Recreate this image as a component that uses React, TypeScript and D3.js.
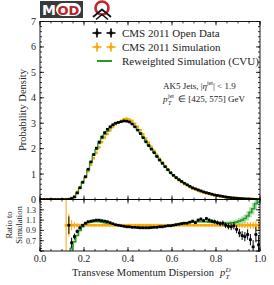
import React from 'react';
import * as d3 from 'd3';

// 80 bins on [0, 1]
const nBins = 80;
const binWidth = 1 / nBins;

const dataDensity = [
  0, 0, 0, 0, 0, 0, 0, 0, 0, 0,
  0.01, 0.04, 0.10, 0.26, 0.46, 0.68, 0.90, 1.19, 1.48, 1.77,
  2.02, 2.26, 2.46, 2.63, 2.76, 2.86, 2.94, 3.00, 3.03, 3.06,
  3.09, 3.08, 3.05, 2.97, 2.86, 2.73, 2.59, 2.43, 2.27, 2.12,
  1.98, 1.84, 1.69, 1.55, 1.42, 1.29, 1.17, 1.05, 0.95, 0.86,
  0.78, 0.71, 0.64, 0.58, 0.52, 0.46, 0.42, 0.38, 0.34, 0.30,
  0.27, 0.24, 0.21, 0.18, 0.16, 0.14, 0.12, 0.10, 0.085, 0.07,
  0.06, 0.05, 0.04, 0.032, 0.025, 0.019, 0.014, 0.009, 0.005, 0.002,
];

// data / simulation
const dataRatio: (number | null)[] = [
  null, null, null, null, null, null, null, null, null, null,
  1.0, 0.66, 0.78, 0.88, 0.95, 1.0, 1.04, 1.07, 1.08, 1.09,
  1.10, 1.10, 1.09, 1.08, 1.07, 1.05, 1.03, 1.01, 1.0, 0.99,
  0.98, 0.97, 0.97, 0.96, 0.96, 0.955, 0.95, 0.95, 0.95, 0.95,
  0.955, 0.96, 0.96, 0.97, 0.97, 0.98, 0.99, 0.99, 1.0, 1.01,
  1.02, 1.03, 1.04, 1.04, 1.06, 1.08, 1.05, 1.10, 1.12, 1.09,
  1.13, 1.10, 1.08, 1.07, 1.05, 1.03, 1.04, 1.0, 0.98, 0.97,
  0.99, 0.92, 0.85, 0.80, 0.78, 0.82, 0.72, 0.58, 0.82, 0.62,
];

const dataRatioErr: (number | null)[] = [
  null, null, null, null, null, null, null, null, null, null,
  0.17, 0.10, 0.06, 0.04, 0.03, 0.02, 0.015, 0.012, 0.01, 0.01,
  0.01, 0.01, 0.01, 0.01, 0.01, 0.01, 0.01, 0.01, 0.01, 0.01,
  0.01, 0.01, 0.01, 0.01, 0.01, 0.01, 0.01, 0.01, 0.01, 0.01,
  0.01, 0.01, 0.01, 0.01, 0.01, 0.012, 0.012, 0.013, 0.014, 0.015,
  0.016, 0.017, 0.018, 0.019, 0.02, 0.022, 0.024, 0.026, 0.028, 0.03,
  0.032, 0.034, 0.036, 0.04, 0.042, 0.045, 0.05, 0.055, 0.06, 0.065,
  0.07, 0.075, 0.08, 0.085, 0.09, 0.10, 0.11, 0.13, 0.15, 0.18,
];

const simRatioErr: (number | null)[] = [
  null, null, null, null, null, null, null, null, null, 0.7,
  0.22, 0.10, 0.06, 0.04, 0.03, 0.02, 0.015, 0.012, 0.01, 0.01,
  0.008, 0.008, 0.008, 0.008, 0.008, 0.008, 0.008, 0.008, 0.008, 0.008,
  0.008, 0.008, 0.008, 0.008, 0.008, 0.008, 0.008, 0.008, 0.008, 0.008,
  0.008, 0.008, 0.008, 0.008, 0.008, 0.009, 0.009, 0.01, 0.01, 0.01,
  0.011, 0.012, 0.013, 0.014, 0.015, 0.016, 0.017, 0.018, 0.019, 0.02,
  0.021, 0.022, 0.023, 0.025, 0.027, 0.029, 0.031, 0.033, 0.035, 0.037,
  0.04, 0.043, 0.046, 0.05, 0.055, 0.06, 0.065, 0.07, 0.08, 0.09,
];

// reweighted (CVU) / simulation
const cvuRatio: (number | null)[] = [
  null, null, null, null, null, null, null, null, null, null,
  0.45, 0.55, 0.68, 0.80, 0.90, 0.97, 1.02, 1.05, 1.06, 1.07,
  1.07, 1.07, 1.06, 1.05, 1.04, 1.03, 1.02, 1.01, 1.0, 0.99,
  0.98, 0.975, 0.97, 0.965, 0.96, 0.96, 0.96, 0.96, 0.96, 0.96,
  0.96, 0.965, 0.97, 0.975, 0.98, 0.985, 0.99, 1.0, 1.01, 1.02,
  1.03, 1.04, 1.05, 1.05, 1.06, 1.06, 1.07, 1.07, 1.07, 1.07,
  1.07, 1.06, 1.06, 1.05, 1.05, 1.04, 1.04, 1.04, 1.04, 1.05,
  1.05, 1.06, 1.08, 1.10, 1.13, 1.18, 1.25, 1.32, 1.42, 1.55,
];

const cvuErr: (number | null)[] = [
  null, null, null, null, null, null, null, null, null, null,
  0.05, 0.04, 0.03, 0.02, 0.015, 0.012, 0.01, 0.01, 0.01, 0.01,
  0.008, 0.008, 0.008, 0.008, 0.008, 0.008, 0.008, 0.008, 0.008, 0.008,
  0.008, 0.008, 0.008, 0.008, 0.008, 0.008, 0.008, 0.008, 0.008, 0.008,
  0.008, 0.008, 0.008, 0.008, 0.008, 0.009, 0.009, 0.01, 0.01, 0.01,
  0.011, 0.012, 0.013, 0.014, 0.015, 0.016, 0.017, 0.018, 0.019, 0.02,
  0.021, 0.022, 0.024, 0.026, 0.028, 0.03, 0.032, 0.034, 0.036, 0.04,
  0.045, 0.05, 0.06, 0.07, 0.08, 0.09, 0.10, 0.11, 0.12, 0.14,
];

const mainYTicks = [0, 1, 2, 3, 4, 5, 6, 7];
const ratioYTicks = [0.7, 0.9, 1.1, 1.3];
const xTicks = [0, 0.2, 0.4, 0.6, 0.8, 1.0];

const legendLabels = ['CMS 2011 Open Data', 'CMS 2011 Simulation', 'Reweighted Simulation (CVU)'];

const ORANGE = '#ffa500';
const GREEN = '#2a9a2a';
const LIGHTGREEN = '#8fd18f';
const SERIF = '"Liberation Serif", "Times New Roman", serif';

const x = d3.scaleLinear().domain([0, 1]).range([40, 260]);
const yMain = d3.scaleLinear().domain([0, 7]).range([199.5, 21.5]);
const yRatio = d3.scaleLinear().domain([0.5, 1.5]).range([251, 199.5]);

const bins = d3.range(nBins).map(i => ({
  i,
  lo: i * binWidth,
  hi: (i + 1) * binWidth,
  c: (i + 0.5) * binWidth,
}));

const simDensity = bins.map(b => {
  const r = dataRatio[b.i];
  return r ? dataDensity[b.i] / r : 0;
});
const cvuDensity = bins.map(b => {
  const r = cvuRatio[b.i];
  return r ? simDensity[b.i] * r : null;
});

function stepPoints(vals: (number | null)[]) {
  const pts: [number, number][] = [];
  bins.forEach(b => {
    const v = vals[b.i];
    if (v == null) return;
    pts.push([b.lo, v], [b.hi, v]);
  });
  return pts;
}

function Ticks({ scale, values, minor, side, pos, len = 4, mlen = 2 }: any) {
  const out: any[] = [];
  const draw = (v: number, l: number, k: string) => {
    if (side === 'left') out.push(<line key={k} x1={pos} x2={pos + l} y1={scale(v)} y2={scale(v)} />);
    if (side === 'right') out.push(<line key={k} x1={pos} x2={pos - l} y1={scale(v)} y2={scale(v)} />);
    if (side === 'bottom') out.push(<line key={k} y1={pos} y2={pos - l} x1={scale(v)} x2={scale(v)} />);
    if (side === 'top') out.push(<line key={k} y1={pos} y2={pos + l} x1={scale(v)} x2={scale(v)} />);
  };
  minor.forEach((v: number, i: number) => draw(v, mlen, 'm' + i));
  values.forEach((v: number, i: number) => draw(v, len, 'M' + i));
  return <g stroke="#000" strokeWidth={0.8}>{out}</g>;
}

export default function App() {
  const xMinor = d3.range(0, 1.0001, 0.05);
  const mainMinor = d3.range(0, 7.0001, 0.2);
  const ratioMinor = d3.range(0.5, 1.5001, 0.05);
  const ratioMajor = [0.5, ...ratioYTicks, 1.5];

  const mainGreen = d3.line<[number, number]>().x(d => x(d[0])).y(d => yMain(d[1]))(stepPoints(cvuDensity));
  const ratioGreen = d3.line<[number, number]>().x(d => x(d[0])).y(d => yRatio(d[1]))(stepPoints(cvuRatio));
  const bandPts: { x: number; lo: number; hi: number }[] = [];
  bins.forEach(b => {
    const v = cvuRatio[b.i];
    const e = cvuErr[b.i];
    if (v == null || e == null) return;
    bandPts.push({ x: b.lo, lo: v - e, hi: v + e }, { x: b.hi, lo: v - e, hi: v + e });
  });
  const band = d3.area<{ x: number; lo: number; hi: number }>()
    .x(d => x(d.x)).y0(d => yRatio(d.lo)).y1(d => yRatio(d.hi))(bandPts);

  const ms = 2.7;

  return (
    <svg width={274} height={285} style={{ display: 'block', position: 'absolute', left: 0, top: 0 }}>
      <rect x={0} y={0} width={274} height={285} fill="#fff" />
      {/* logos */}
      <g>
        <rect x={40} y={1} width={43} height={17} fill="#3a3a3a" />
        <text x={42} y={15} fill="#fff" fontFamily="DejaVu Sans" fontWeight="bold" fontSize={14}>M</text>
        <rect x={56} y={3} width={25} height={13} rx={6.5} fill="#fff" />
        <text x={57.5} y={14.5} fill="#b8232b" fontFamily="DejaVu Sans" fontWeight="bold" fontSize={13}>OD</text>
        <circle cx={102} cy={8} r={6.5} fill="none" stroke="#c0262c" strokeWidth={2.6} />
        <polyline points="93,17 102,9.5 111,17" fill="none" stroke="#111" strokeWidth={1.8} />
        <polyline points="96,19.5 102,14.5 108,19.5" fill="none" stroke="#111" strokeWidth={1.6} />
      </g>

      <defs>
        <clipPath id="mainClip"><rect x={40} y={21.5} width={220} height={178} /></clipPath>
        <clipPath id="ratioClip"><rect x={40} y={199.5} width={220} height={51.5} /></clipPath>
      </defs>

      {/* main panel */}
      <g clipPath="url(#mainClip)">
        {bins.map(b => (
          <g key={'s' + b.i} stroke={ORANGE} fill={ORANGE}>
            <line x1={x(b.lo)} x2={x(b.hi)} y1={yMain(simDensity[b.i])} y2={yMain(simDensity[b.i])} strokeWidth={1} />
            <rect x={x(b.c) - ms / 2} y={yMain(simDensity[b.i]) - ms / 2} width={ms} height={ms} stroke="none" />
          </g>
        ))}
        <path d={mainGreen || ''} fill="none" stroke={GREEN} strokeWidth={1.3} />
        {bins.map(b => (
          <g key={'d' + b.i} stroke="#000" fill="#000">
            <line x1={x(b.lo)} x2={x(b.hi)} y1={yMain(dataDensity[b.i])} y2={yMain(dataDensity[b.i])} strokeWidth={1} />
            <rect x={x(b.c) - ms / 2} y={yMain(dataDensity[b.i]) - ms / 2} width={ms} height={ms} stroke="none" />
          </g>
        ))}
      </g>

      {/* ratio panel */}
      <g clipPath="url(#ratioClip)">
        {bins.map(b => {
          const e = simRatioErr[b.i];
          if (e == null) return null;
          return (
            <g key={'rs' + b.i} stroke={ORANGE} fill={ORANGE}>
              <line x1={x(b.lo)} x2={x(b.hi)} y1={yRatio(1)} y2={yRatio(1)} strokeWidth={1} />
              <line x1={x(b.c)} x2={x(b.c)} y1={yRatio(1 - e)} y2={yRatio(1 + e)} strokeWidth={1} />
              <rect x={x(b.c) - ms / 2} y={yRatio(1) - ms / 2} width={ms} height={ms} stroke="none" />
            </g>
          );
        })}
        <path d={band || ''} fill={LIGHTGREEN} opacity={0.7} />
        <path d={ratioGreen || ''} fill="none" stroke={GREEN} strokeWidth={1.6} />
        {bins.map(b => {
          const r = dataRatio[b.i];
          const e = dataRatioErr[b.i];
          if (r == null || e == null) return null;
          return (
            <g key={'rd' + b.i} stroke="#000" fill="#000">
              <line x1={x(b.lo)} x2={x(b.hi)} y1={yRatio(r)} y2={yRatio(r)} strokeWidth={1} />
              <line x1={x(b.c)} x2={x(b.c)} y1={yRatio(r - e)} y2={yRatio(r + e)} strokeWidth={1} />
              <rect x={x(b.c) - ms / 2} y={yRatio(r) - ms / 2} width={ms} height={ms} stroke="none" />
            </g>
          );
        })}
      </g>

      {/* frames */}
      <rect x={40} y={21.5} width={220} height={178} fill="none" stroke="#000" strokeWidth={0.9} />
      <rect x={40} y={199.5} width={220} height={51.5} fill="none" stroke="#000" strokeWidth={0.9} />

      {/* ticks */}
      <Ticks scale={yMain} values={mainYTicks} minor={mainMinor} side="left" pos={40} />
      <Ticks scale={yMain} values={mainYTicks} minor={mainMinor} side="right" pos={260} />
      <Ticks scale={x} values={xTicks} minor={xMinor} side="top" pos={21.5} />
      <Ticks scale={x} values={xTicks} minor={xMinor} side="bottom" pos={199.5} />
      <Ticks scale={yRatio} values={ratioMajor} minor={ratioMinor} side="left" pos={40} />
      <Ticks scale={yRatio} values={ratioMajor} minor={ratioMinor} side="right" pos={260} />
      <Ticks scale={x} values={xTicks} minor={xMinor} side="top" pos={199.5} />
      <Ticks scale={x} values={xTicks} minor={xMinor} side="bottom" pos={251} />

      {/* tick labels */}
      <g fontFamily={SERIF} fontSize={10} fill="#222">
        {mainYTicks.map(t => (
          <text key={t} x={36} y={yMain(t) + 3.5} textAnchor="end">{t}</text>
        ))}
        {xTicks.map(t => (
          <text key={t} x={x(t)} y={262} textAnchor="middle">{t.toFixed(1)}</text>
        ))}
      </g>
      <g fontFamily={SERIF} fontSize={8} fill="#222">
        {ratioYTicks.map(t => (
          <text key={t} x={36} y={yRatio(t) + 3} textAnchor="end">{t.toFixed(1)}</text>
        ))}
      </g>

      {/* axis labels */}
      <text transform="translate(26,110) rotate(-90)" textAnchor="middle" fontFamily={SERIF} fontSize={10.5} fill="#222">Probability Density</text>
      <text transform="translate(12,225) rotate(-90)" textAnchor="middle" fontFamily={SERIF} fontSize={8.5} fill="#222">Ratio to</text>
      <text transform="translate(22,225) rotate(-90)" textAnchor="middle" fontFamily={SERIF} fontSize={8.5} fill="#222">Simulation</text>
      <g fontFamily={SERIF} fill="#222">
        <text x={72} y={276} fontSize={10.5}>Transvese Momentum Dispersion</text>
        <text x={220} y={276} fontSize={10.5} fontStyle="italic">p</text>
        <text x={225.5} y={272} fontSize={7} fontStyle="italic">D</text>
        <text x={225.5} y={279} fontSize={7} fontStyle="italic">T</text>
      </g>

      {/* legend */}
      <g>
        {[0, 1].map(k => {
          const c = k === 0 ? '#000' : ORANGE;
          const yy = 33 + k * 14;
          return (
            <g key={k} stroke={c} fill={c}>
              {[97, 111].map(cx => (
                <g key={cx}>
                  <line x1={cx - 4.5} x2={cx + 4.5} y1={yy} y2={yy} strokeWidth={1.6} />
                  <line x1={cx} x2={cx} y1={yy - 4.5} y2={yy + 4.5} strokeWidth={1.6} />
                  <rect x={cx - 1.5} y={yy - 1.5} width={3} height={3} stroke="none" />
                </g>
              ))}
            </g>
          );
        })}
        <line x1={97} x2={112} y1={61} y2={61} stroke={GREEN} strokeWidth={2} />
        {legendLabels.map((l, k) => (
          <text key={l} x={122} y={37 + k * 14} fontFamily={SERIF} fontSize={11} fill="#222">{l}</text>
        ))}
      </g>

      {/* annotation */}
      <g fontFamily={SERIF} fontSize={9} fill="#222">
        <text x={163} y={89}>
          AK5 Jets, |<tspan fontStyle="italic">η</tspan><tspan fontSize={6} dy={-4}>jet</tspan><tspan dy={4}>| &lt; 1.9</tspan>
        </text>
        <text x={163} y={102} fontStyle="italic">p</text>
        <text x={168} y={98} fontSize={6}>jet</text>
        <text x={168} y={104.5} fontSize={6} fontStyle="italic">T</text>
        <text x={178} y={102}>∈ [425, 575] GeV</text>
      </g>
    </svg>
  );
}
